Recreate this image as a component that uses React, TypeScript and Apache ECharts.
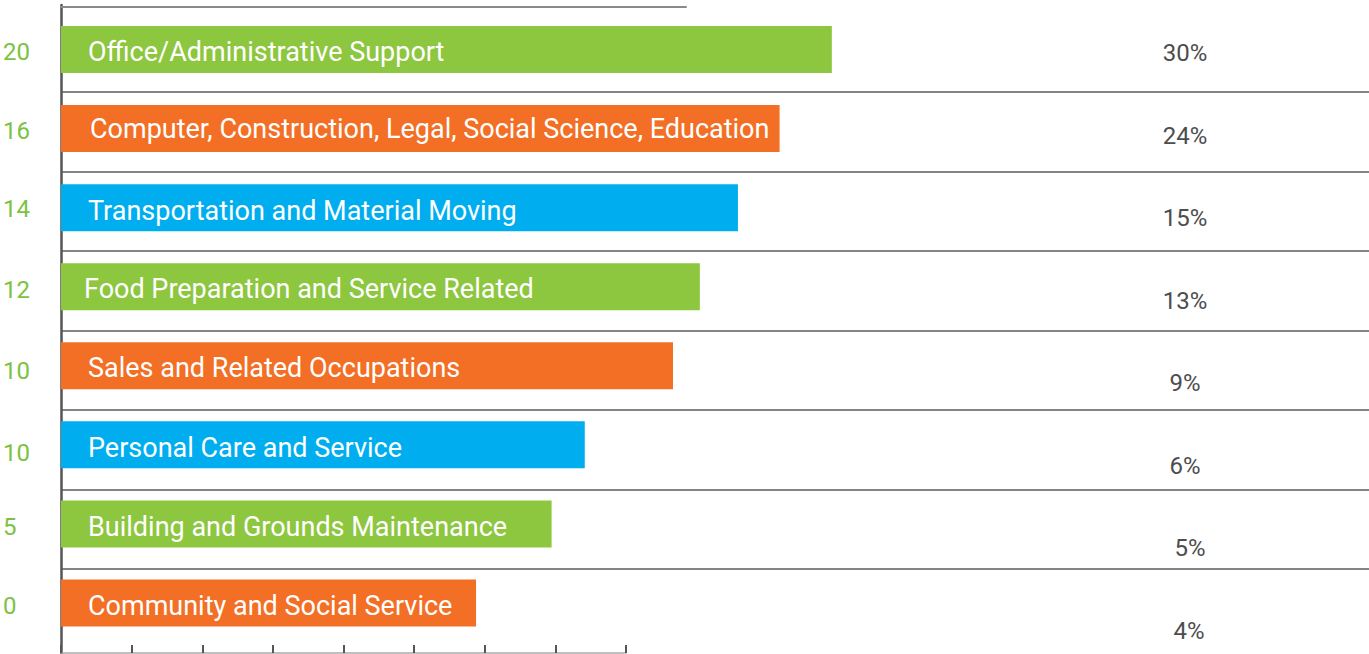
import React, { useEffect, useRef } from "react";
import * as echarts from "echarts";

const categories = [
  "Office/Administrative Support",
  "Computer, Construction, Legal, Social Science, Education",
  "Transportation and Material Moving",
  "Food Preparation and Service Related",
  "Sales and Related Occupations",
  "Personal Care and Service",
  "Building and Grounds Maintenance",
  "Community and Social Service",
];
const barValues = [10.92, 10.18, 9.59, 9.05, 8.67, 7.42, 6.95, 5.88];
const barColors = ["#8dc63f", "#f26f25", "#00aeef", "#8dc63f", "#f26f25", "#00aeef", "#8dc63f", "#f26f25"];
const countLabels = ["20", "16", "14", "12", "10", "10", "5", "0"];
const shareLabels = ["30%", "24%", "15%", "13%", "9%", "6%", "5%", "4%"];
const labelDistance = [27, 29, 27, 23, 27, 27, 27, 27];
const labelShift = [2, 0, 3, 2, 2, 3, 3, 3];
const countShift = [2, 2, 1, 3, 5, 8, 3, 3];
const shareShift = [0, 0, 0, 0, 0, 0, 5, 4];

const FONT = "Roboto, 'Noto Sans', sans-serif";

export default function App() {
  const ref = useRef<HTMLDivElement>(null);
  useEffect(() => {
    document.body.style.margin = "0";
    document.body.style.overflow = "hidden";
    const chart = echarts.init(ref.current!, null, { renderer: "svg" });
    const countRich: Record<string, any> = {};
    countShift.forEach((s, i) => {
      countRich["c" + i] = { color: "#7cc242", fontSize: 24, fontFamily: FONT, padding: [2 * s, 0, 0, 0] };
    });
    const shareRich: Record<string, any> = {};
    shareShift.forEach((s, i) => {
      shareRich["p" + i] = { color: "#4d4d4d", fontSize: 24, fontFamily: FONT, padding: [0, 0, 0, 2 * s] };
    });
    chart.setOption({
      animation: false,
      grid: [
        { left: 61, right: 0, top: 10, bottom: 11.5 },
        { left: 61, right: 0, top: 12.5, bottom: 5.5 },
        { left: 61, width: 625, top: 6, height: 1 },
        { left: 61, width: 1, top: 5, bottom: 0 },
        { left: 61, width: 565, bottom: 1, height: 1 },
        { left: 1185, width: 1, top: 53, bottom: 23 },
      ],
      xAxis: [
        { gridIndex: 0, type: "value", min: 0, max: 18.53, show: false },
        { gridIndex: 1, type: "value", min: 0, max: 1, show: false },
        {
          gridIndex: 2, type: "value", min: 0, max: 1, position: "top",
          axisLine: { show: true, lineStyle: { color: "#8a8a8a", width: 2 } },
          axisTick: { show: false }, axisLabel: { show: false }, splitLine: { show: false },
        },
        { gridIndex: 3, type: "value", min: 0, max: 1, show: false },
        {
          gridIndex: 4, type: "value", min: 0, max: 8, interval: 1, position: "bottom",
          axisLine: { show: true, lineStyle: { color: "#aaaaaa", width: 1.5 } },
          axisTick: { show: true, inside: true, length: 8, lineStyle: { color: "#555555", width: 2 } },
          axisLabel: { show: false }, splitLine: { show: false },
        },
        { gridIndex: 5, type: "value", min: 0, max: 1, show: false },
      ],
      yAxis: [
        {
          gridIndex: 0, type: "category", inverse: true, data: categories,
          axisLine: { show: false }, axisTick: { show: false }, splitLine: { show: false },
          axisLabel: {
            align: "left", margin: 58, color: "#7cc242", fontSize: 24, fontFamily: FONT,
            formatter: (_v: string, i: number) => `{c${i}|${countLabels[i]}}`,
            rich: countRich,
          },
        },
        {
          gridIndex: 1, type: "category", inverse: true, data: categories,
          axisLine: { show: false }, axisTick: { show: false }, axisLabel: { show: false },
          splitLine: { show: true, showMinLine: false, showMaxLine: false, lineStyle: { color: "#858585", width: 2 } },
        },
        { gridIndex: 2, type: "value", min: 0, max: 1, show: false },
        {
          gridIndex: 3, type: "value", min: 0, max: 1,
          axisLine: { show: true, lineStyle: { color: "#555555", width: 2.5 } },
          axisTick: { show: false }, axisLabel: { show: false }, splitLine: { show: false },
        },
        { gridIndex: 4, type: "value", min: 0, max: 1, show: false },
        {
          gridIndex: 5, type: "category", inverse: true, boundaryGap: false, data: shareLabels,
          axisLine: { show: false }, axisTick: { show: false }, splitLine: { show: false },
          axisLabel: {
            align: "center", margin: 0, color: "#4d4d4d", fontSize: 24, fontFamily: FONT,
            formatter: (v: string, i: number) => `{p${i}|${v}}`,
            rich: shareRich,
          },
        },
      ],
      series: [
        {
          type: "bar",
          xAxisIndex: 0,
          yAxisIndex: 0,
          barWidth: 47,
          data: barValues.map((v, i) => ({
            value: v,
            itemStyle: { color: barColors[i] },
            label: { distance: labelDistance[i], offset: [0, labelShift[i]] },
          })),
          label: {
            show: true,
            position: "insideLeft",
            formatter: "{b}",
            color: "#ffffff",
            fontSize: 27,
            fontFamily: FONT,
          },
        },
      ],
    });
    return () => chart.dispose();
  }, []);
  return <div ref={ref} style={{ width: 1369, height: 654 }} />;
}
